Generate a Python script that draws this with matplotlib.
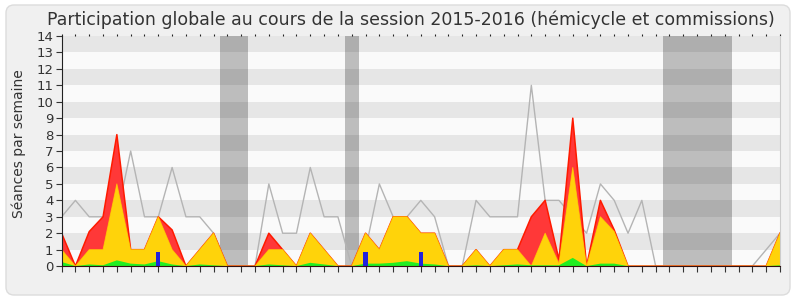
import numpy as np
import matplotlib
matplotlib.use("Agg")
import matplotlib.pyplot as plt
from matplotlib.patches import FancyBboxPatch

# -------------------------------------------------------
# data: one value per week of the session
# -------------------------------------------------------
weeks = np.arange(53)

total = [3, 4, 3, 3, 3, 7, 3, 3, 6, 3,
         3, 2, 0, 0, 0, 5, 2, 2, 6, 3,
         3, 0, 1, 5, 3, 3, 4, 3, 0, 0,
         4, 3, 3, 3, 11, 4, 4, 3, 2, 5,
         4, 2, 4, 0, 0, 0, 0, 0, 0, 0,
         0, 1, 2]

presence = [2, 0, 2.1, 3, 8, 1, 1, 3, 2.2, 0,
            1, 2, 0, 0, 0, 2, 1, 0, 2, 1,
            0, 0, 2, 1, 3, 3, 2, 2, 0, 0,
            1, 0, 1, 1, 3, 4, 0.4, 9, 0, 4,
            2.2, 0, 0, 0, 0, 0, 0, 0, 0, 0,
            0, 0, 2]

hemicycle = [1, 0, 1, 1, 5, 1, 1, 3, 1, 0,
             1, 2, 0, 0, 0, 1, 1, 0, 2, 1,
             0, 0, 2, 1, 3, 3, 2, 2, 0, 0,
             1, 0, 1, 1, 0, 2, 0.15, 6, 0, 3,
             2.1, 0, 0, 0, 0, 0, 0, 0, 0, 0,
             0, 0, 2]

interventions = [0.25, 0, 0.1, 0.05, 0.35, 0.15, 0.1, 0.3, 0.1, 0,
                 0.1, 0.05, 0, 0, 0, 0.1, 0.05, 0, 0.2, 0.1,
                 0, 0, 0.15, 0.15, 0.2, 0.3, 0.15, 0.1, 0, 0,
                 0.05, 0, 0.05, 0.1, 0.05, 0.05, 0.05, 0.5, 0, 0.15,
                 0.15, 0, 0, 0, 0, 0, 0, 0, 0, 0,
                 0, 0, 0.05]

question_weeks = [7, 22, 26]
questions = [0.85, 0.85, 0.85]

holidays = [(11.5, 13.5), (20.5, 21.5), (43.5, 48.5)]

month_pos = [1, 6, 11, 15, 18, 22, 27, 31, 36, 40, 45, 50]
month_names = ["Oct", "Nov", "Déc", "Jan 16", "Fév", "Mar", "Avr",
               "Mai", "Juin", "Juil", "Août", "Sept"]

# -------------------------------------------------------
# figure
# -------------------------------------------------------
fig = plt.figure(figsize=(8, 3), dpi=100)
fig.patch.set_facecolor("white")
frame = FancyBboxPatch((0.06, 0.05), 7.84, 2.9,
                       boxstyle="round,pad=0,rounding_size=0.08",
                       transform=fig.dpi_scale_trans,
                       facecolor="#f0f0f0", edgecolor="#dcdcdc", lw=1,
                       zorder=-10)
fig.patches.append(frame)

ax = fig.add_axes([0.077, 0.113, 0.898, 0.767])
ax.set_facecolor("#fafafa")

# horizontal stripes
for k in range(1, 14, 2):
    ax.axhspan(k, k + 1, color="#e6e6e6", lw=0, zorder=0)

# holiday bands
for a, b in holidays:
    ax.axvspan(a, b, color="black", alpha=0.245, lw=0, zorder=1)

ax.plot(weeks, total, color="#b4b4b4", lw=1, zorder=2)

# filled layers, outline drawn separately so zero stretches stay clean
ax.fill_between(weeks, 0, presence, facecolor="#ff3838", lw=0, zorder=3)
ax.plot(weeks, presence, color="#ff1a00", lw=1.1, zorder=3.5)
ax.fill_between(weeks, 0, hemicycle, facecolor="#ffd30a", lw=0, zorder=4)
ax.plot(weeks, hemicycle, color="#ffd800", lw=0.7, alpha=0.7, zorder=4.5)
ax.fill_between(weeks, 0, interventions, facecolor="#22ee22", lw=0, zorder=5)
ax.bar(question_weeks, questions, width=0.3, color="#2222dd", zorder=6)

ax.set_xlim(0, 52)
ax.set_ylim(0, 14)

# ticks
ax.set_yticks(range(15))
ax.set_xticks(weeks)
ax.set_xticklabels(["" for _ in weeks])
ax.set_xticks(month_pos, minor=True)
ax.set_xticklabels(month_names, minor=True)
ax.tick_params(axis="x", which="major", direction="out", length=4,
               color="#333333", top=True, labeltop=False)
ax.tick_params(axis="x", which="minor", length=0, labelsize=10,
               colors="#333333", pad=3)
ax.tick_params(axis="y", direction="out", length=4, color="#333333",
               labelsize=9.5, labelcolor="#333333", pad=2)

ax.spines["top"].set_visible(False)
ax.spines["right"].set_color("#cccccc")
ax.spines["left"].set_color("#222222")
ax.spines["bottom"].set_color("#331111")
for sp in ax.spines.values():
    sp.set_zorder(10)

# small dotted ticks on top edge
for t in ax.xaxis.get_major_ticks():
    t.tick2line.set_markersize(1.5)
    t.tick2line.set_markeredgecolor("#222222")

fig.text(0.513, 0.935,
         "Participation globale au cours de la session 2015-2016 (hémicycle et commissions)",
         ha="center", va="center", fontsize=12.5, color="#333333")
fig.text(0.024, 0.52, "Séances par semaine", rotation=90,
         ha="center", va="center", fontsize=10, color="#333333")

fig.savefig("out.png", dpi=100, facecolor=fig.get_facecolor())
